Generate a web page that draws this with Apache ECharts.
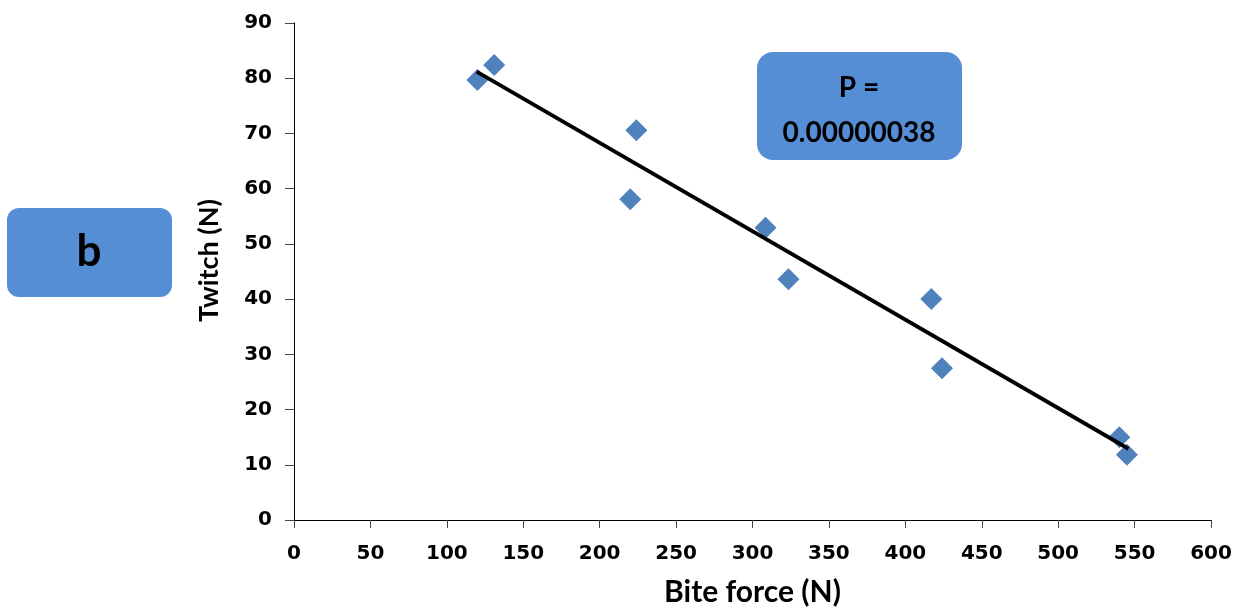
<!DOCTYPE html>
<html>
<head>
<meta charset="utf-8">
<script src="https://cdn.jsdelivr.net/npm/echarts@6/dist/echarts.min.js"></script>
<style>
  html, body { margin: 0; padding: 0; background: #fff; }
  #main { width: 1244px; height: 608px; }
</style>
</head>
<body>
<div id="main"></div>
<script>
// measured points (bite force vs twitch)
var biteForce = [120, 131, 224, 220, 308.5, 323.5, 417, 424, 540, 545];
var twitch = [79.7, 82.4, 70.6, 58.1, 52.9, 43.6, 40.0, 27.5, 15.0, 11.8];
// trend line ends
var trendX = [119.5, 546];
var trendY = [81.2, 12.9];

var blue = '#4F81BD';
var boxBlue = '#558ED5';

var chart = echarts.init(document.getElementById('main'));

var pts = [];
for (let i = 0; i < biteForce.length; i++) {
    pts.push([biteForce[i], twitch[i]]);
}
var trend = [];
for (let i = 0; i < trendX.length; i++) {
    trend.push([trendX[i], trendY[i]]);
}

var tickLabel = {
    fontFamily: 'DejaVu Sans',
    fontWeight: 'bold',
    fontSize: 20,
    color: '#000'
};

chart.setOption({
    animation: false,
    grid: {
        left: 294,
        right: 33,
        top: 23,
        bottom: 88,
        outerBoundsMode: 'none',
        containLabel: false
    },
    xAxis: {
        type: 'value',
        min: 0,
        max: 600,
        interval: 50,
        name: 'Bite force (N)',
        nameLocation: 'middle',
        nameGap: 57,
        nameTextStyle: {
            fontFamily: 'Lato',
            fontWeight: 'bold',
            fontSize: 30,
            color: '#000'
        },
        splitLine: { show: false },
        axisLine: { lineStyle: { color: '#000', width: 1 } },
        axisTick: { show: true, inside: false, length: 8, lineStyle: { color: '#444' } },
        axisLabel: Object.assign({ margin: 24 }, tickLabel)
    },
    yAxis: {
        type: 'value',
        min: 0,
        max: 90,
        interval: 10,
        name: 'Twitch (N)',
        nameLocation: 'middle',
        nameGap: 71,
        nameRotate: 90,
        nameTextStyle: {
            fontFamily: 'Lato',
            fontWeight: 'bold',
            fontSize: 27,
            color: '#000',
            padding: [0, 0, 0, 22]
        },
        splitLine: { show: false },
        axisLine: { show: true, lineStyle: { color: '#000', width: 1 } },
        axisTick: { show: true, inside: false, length: 9, lineStyle: { color: '#444' } },
        axisLabel: Object.assign({ margin: 22 }, tickLabel)
    },
    series: [{
        name: 'points',
        type: 'scatter',
        symbol: 'diamond',
        symbolSize: [22, 22],
        data: pts,
        itemStyle: { color: blue, opacity: 1 },
        z: 2
    }, {
        name: 'line',
        type: 'line',
        data: trend,
        symbol: 'none',
        lineStyle: { color: '#000', width: 3.8 },
        z: 3
    }],
    graphic: [{
        type: 'group',
        left: 7,
        top: 208,
        children: [{
            type: 'rect',
            shape: { x: 0, y: 0, width: 165, height: 89, r: 12 },
            style: { fill: boxBlue }
        }, {
            type: 'text',
            x: 82,
            y: 44,
            style: {
                text: 'b',
                fontFamily: 'Lato',
                fontWeight: 'bold',
                fontSize: 44,
                fill: '#000',
                align: 'center',
                verticalAlign: 'middle'
            }
        }]
    }, {
        type: 'group',
        left: 757,
        top: 52,
        children: [{
            type: 'rect',
            shape: { x: 0, y: 0, width: 205, height: 108, r: 16 },
            style: { fill: boxBlue }
        }, {
            type: 'text',
            x: 102,
            y: 36,
            style: {
                text: 'P =',
                fontFamily: 'Lato',
                fontWeight: 'bold',
                fontSize: 28,
                fill: '#000',
                align: 'center',
                verticalAlign: 'middle'
            }
        }, {
            type: 'text',
            x: 102,
            y: 81,
            style: {
                text: '0.00000038',
                fontFamily: 'Lato',
                fontWeight: 'bold',
                fontSize: 28,
                fill: '#000',
                align: 'center',
                verticalAlign: 'middle'
            }
        }]
    }]
});
</script>
</body>
</html>
